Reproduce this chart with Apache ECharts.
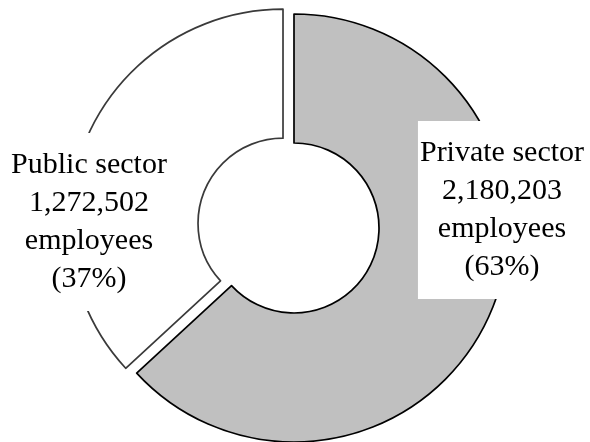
<!DOCTYPE html>
<html>
<head>
<meta charset="utf-8">
<script src="https://cdn.jsdelivr.net/npm/echarts@6/dist/echarts.min.js"></script>
<style>
  html, body { margin: 0; padding: 0; background: #fff; }
  #chart { width: 590px; height: 442px; }
</style>
</head>
<body>
<div id="chart"></div>
<script>
// Employment by sector
const sectors = ['Private sector', 'Public sector'];
const employees = [2180203, 1272502];
const unitText = 'employees';

const fills = ['#c0c0c0', '#ffffff'];
const borders = ['#000000', '#3a3a3a'];
// label anchor points (centre of each text block)
const labelAnchors = [[502, 210], [89, 222]];

const chart = echarts.init(document.getElementById('chart'), null, { renderer: 'canvas' });

const ringCenter = [294, 228];
const ringRadius = [85, 214];

// ring sectors; the public sector is pulled out
const sectorData = sectors.map((name, i) => ({
  name: name,
  value: employees[i],
  selected: i === 1,
  itemStyle: { color: fills[i], borderColor: borders[i], borderWidth: 1.7 }
}));

// same values again, invisible, carrying the text blocks
const labelData = sectors.map((name, i) => ({ name: name, value: employees[i] }));

chart.setOption({
  animation: false,
  backgroundColor: '#ffffff',
  series: [{
    type: 'pie',
    z: 2,
    center: ringCenter,
    radius: ringRadius,
    startAngle: 90,
    clockwise: true,
    selectedMode: 'single',
    selectedOffset: 12,
    emphasis: { disabled: true },
    silent: true,
    label: { show: false },
    labelLine: { show: false },
    data: sectorData
  }, {
    type: 'pie',
    z: 3,
    center: ringCenter,
    radius: ringRadius,
    startAngle: 90,
    clockwise: true,
    avoidLabelOverlap: false,
    selectedMode: false,
    emphasis: { disabled: true },
    silent: true,
    itemStyle: { color: 'rgba(0,0,0,0)', borderWidth: 0 },
    data: labelData,
    label: {
      show: true,
      position: 'inside',
      formatter: function (p) {
        return p.name + '\n' + p.value.toLocaleString('en-US') + '\n' + unitText + '\n(' + Math.round(p.percent) + '%)';
      },
      fontFamily: 'Liberation Serif',
      fontSize: 30,
      lineHeight: 38,
      color: '#000',
      align: 'center',
      backgroundColor: '#ffffff',
      padding: [13, 2]
    },
    labelLine: { show: false },
    labelLayout: function (params) {
      const a = labelAnchors[params.dataIndex];
      return { x: a[0], y: a[1], align: 'center', verticalAlign: 'middle', rotate: 0 };
    }
  }]
});
</script>
</body>
</html>
